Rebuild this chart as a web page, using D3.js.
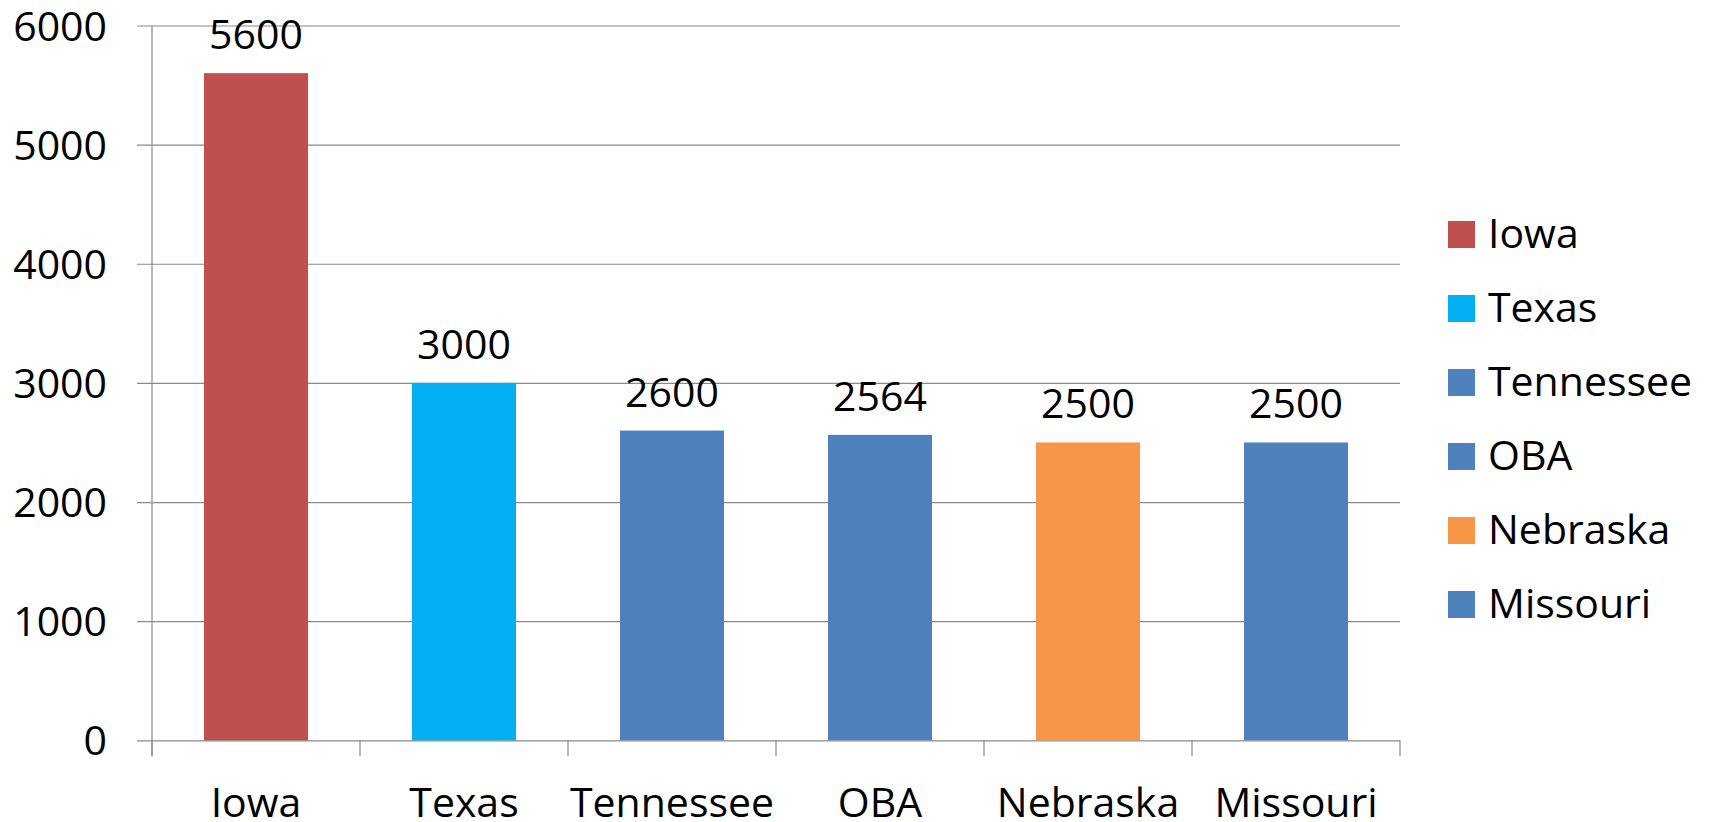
<!DOCTYPE html>
<html>
<head>
<meta charset="utf-8">
<script src="https://cdn.jsdelivr.net/npm/d3@7"></script>
<style>
  html, body { margin: 0; padding: 0; background: #fff; }
  svg { display: block; }
  text { font-family: "Open Sans", "Liberation Sans", sans-serif; fill: #000; }
</style>
</head>
<body>
<svg id="chart" width="1711" height="822"></svg>
<script>
const categories = ["Iowa", "Texas", "Tennessee", "OBA", "Nebraska", "Missouri"];
const values = [5600, 3000, 2600, 2564, 2500, 2500];
const colors = ["#C0504D", "#00B0F0", "#4F81BD", "#4F81BD", "#F79646", "#4F81BD"];
const yTicks = [0, 1000, 2000, 3000, 4000, 5000, 6000];

(function () {
const svg = d3.select("#chart");
const mLeft = 152, mRight = 1400, mTop = 25.5, mBottom = 740.3;
const fontSize = 41;
const capOffset = fontSize * 0.714 / 2;
const gridColor = "#8a8a8a";

const x = d3.scaleBand().domain(categories).range([mLeft, mRight]).paddingInner(0.5).paddingOuter(0.25);
const y = d3.scaleLinear().domain([0, 6000]).range([mBottom, mTop]);

// gridlines + y tick labels
const yAxis = d3.axisLeft(y).tickValues(yTicks).tickSize(-(mRight - mLeft)).tickSizeOuter(0).tickPadding(30).tickFormat(d3.format("d"));
const gy = svg.append("g").attr("transform", `translate(${mLeft},0)`).call(yAxis);
gy.select(".domain").remove();
gy.selectAll(".tick line").attr("stroke", gridColor).attr("stroke-width", 1.2).attr("x1", -15);
gy.selectAll(".tick text")
  .attr("font-size", fontSize).attr("font-family", "Open Sans, Liberation Sans, sans-serif")
  .attr("fill", "#000").attr("dy", null).attr("y", capOffset).attr("x", -45);

// bars
svg.append("g").selectAll("rect").data(categories).join("rect")
  .attr("x", d => x(d))
  .attr("y", (d, i) => y(values[i]))
  .attr("width", x.bandwidth())
  .attr("height", (d, i) => y(0) - y(values[i]))
  .attr("fill", (d, i) => colors[i]);

// data labels
svg.append("g").selectAll("text").data(categories).join("text")
  .attr("x", d => x(d) + x.bandwidth() / 2)
  .attr("y", (d, i) => y(values[i]) - 24)
  .attr("text-anchor", "middle")
  .attr("font-size", fontSize)
  .text((d, i) => values[i]);

// axes lines
svg.append("line").attr("x1", mLeft).attr("x2", mLeft).attr("y1", mTop).attr("y2", mBottom + 16)
  .attr("stroke", gridColor).attr("stroke-width", 1.2);
const step = x.step();
const edges = d3.range(categories.length + 1).map(i => mLeft + i * step);
svg.append("g").selectAll("line").data(edges).join("line")
  .attr("x1", d => d).attr("x2", d => d).attr("y1", mBottom).attr("y2", mBottom + 16)
  .attr("stroke", gridColor).attr("stroke-width", 1.2);

// x labels
svg.append("g").selectAll("text").data(categories).join("text")
  .attr("x", d => x(d) + x.bandwidth() / 2)
  .attr("y", 817)
  .attr("text-anchor", "middle")
  .attr("font-size", fontSize)
  .text(d => d);

// legend
const legend = svg.append("g").selectAll("g").data(categories).join("g")
  .attr("transform", (d, i) => `translate(1448, ${221 + i * 74})`);
legend.append("rect").attr("width", 27).attr("height", 27).attr("fill", (d, i) => colors[i]);
legend.append("text").attr("x", 40).attr("y", 27).attr("font-size", fontSize).text(d => d);
})();
</script>
</body>
</html>
